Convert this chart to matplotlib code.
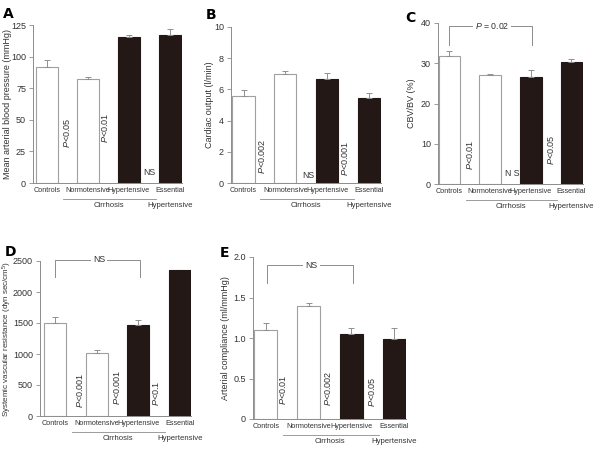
import matplotlib.pyplot as plt
from matplotlib.transforms import blended_transform_factory, offset_copy

plt.rcParams['font.family'] = ['Liberation Sans', 'DejaVu Sans']
plt.rcParams['mathtext.fontset'] = 'custom'
plt.rcParams['mathtext.rm'] = 'Liberation Sans'
plt.rcParams['mathtext.it'] = 'Liberation Sans:italic'

groups = ['Controls', 'Normotensive', 'Hypertensive', 'Essential']
filled = [False, False, True, True]

map_vals = [92, 82, 115.5, 117]
map_err = [5, 1.5, 1.5, 4.5]
co_vals = [5.6, 7.0, 6.65, 5.45]
co_err = [0.35, 0.15, 0.4, 0.3]
cbv_vals = [31.7, 27.0, 26.7, 30.2]
cbv_err = [1.3, 0.3, 1.5, 0.8]
svr_vals = [1500, 1010, 1475, 2350]
svr_err = [100, 50, 75, 0]
ac_vals = [1.10, 1.39, 1.05, 0.99]
ac_err = [0.09, 0.04, 0.07, 0.13]

W, H = 600, 470
TXT = '#333333'
GREY = '#8c8c8c'
DARK = '#231816'

fig = plt.figure(figsize=(6, 4.7), dpi=100)


def panel(left, spacing, xl, top, bottom, vals, errs, ymax, ystep, ylabel, letter,
          letter_xy, ylabel_x, pvals, bracket=None, ticklabels=None, ylsize=6.5):
    x0, x1 = xl
    width = (x1 - x0) * spacing
    ax = fig.add_axes([left / W, 1 - bottom / H, width / W, (bottom - top) / H])
    for i, (v, e) in enumerate(zip(vals, errs)):
        fc = DARK if filled[i] else 'white'
        ec = DARK if filled[i] else '#a0a0a0'
        ax.bar(i, v, width=0.53, color=fc, edgecolor=ec, linewidth=0.8, zorder=2)
        if e > 0:
            ax.errorbar(i, v, yerr=[[0], [e]], color='#909090', capsize=2,
                        elinewidth=0.7, capthick=0.7, zorder=3)
    ax.set_xlim(x0, x1)
    ax.set_ylim(0, ymax)
    ticks = [ystep * k for k in range(int(round(ymax / ystep)) + 1)]
    ax.set_yticks(ticks)
    if ticklabels:
        ax.set_yticklabels(ticklabels)
    ax.set_xticks(range(4))
    ax.set_xticklabels(groups)
    ax.tick_params(axis='x', length=0, pad=3, labelsize=5.2, colors=TXT)
    ax.tick_params(axis='y', length=3, width=0.6, color=GREY, labelsize=6.5,
                   labelcolor=TXT, pad=2)
    for s in ['top', 'right']:
        ax.spines[s].set_visible(False)
    for s in ['left', 'bottom']:
        ax.spines[s].set_color(GREY)
        ax.spines[s].set_linewidth(0.7)

    # second row of group labels and the Cirrhosis underline
    trans = blended_transform_factory(ax.transData, ax.transAxes)
    for xx, lab in [(1.5, 'Cirrhosis'), (3, 'Hypertensive')]:
        ax.annotate(lab, xy=(xx, 0), xycoords=trans, xytext=(0, -16),
                    textcoords='offset points', ha='center', va='center',
                    fontsize=5.6, color=TXT)
    tr2 = offset_copy(trans, fig=fig, x=0, y=-11.5, units='points')
    ax.plot([0.4, 2.65], [0, 0], transform=tr2, color=GREY, linewidth=0.6,
            clip_on=False)

    for (px, py, txt) in pvals:
        if txt.startswith('N'):
            ax.text(px, py, txt, ha='center', va='center', fontsize=6.3, color=TXT)
        else:
            ax.text(px, py, r'$P$' + txt, ha='center', va='center', rotation=90,
                    fontsize=6.5, color=TXT)
    if bracket is not None:
        bx0, bx1, by, bdrop, btxt, btx = bracket
        ax.plot([bx0, bx0, bx1, bx1], [bdrop, by, by, bdrop], color=GREY,
                linewidth=0.7, clip_on=False)
        ax.text(btx, by, btxt, ha='center', va='center', fontsize=6.3, color=TXT,
                bbox=dict(facecolor='white', edgecolor='none', pad=1.5))
    ax.set_ylabel(ylabel, fontsize=ylsize, color=TXT, va='center')
    ax.yaxis.set_label_coords((ylabel_x - left) / width, 0.5)
    fig.text(letter_xy[0] / W, 1 - letter_xy[1] / H, letter, fontsize=10,
             fontweight='bold', ha='left', va='center', color='black',
             family='DejaVu Sans')
    return ax


panel(33, 41, (-0.34, 3.3), 25, 183, map_vals, map_err, 125, 25,
      'Mean arterial blood pressure (mmHg)', 'A', (3, 14), 8,
      [(0.5, 40, '<0.05'), (1.42, 44, '<0.01'), (2.5, 8, 'NS')])

panel(231, 41.8, (-0.3, 3.28), 27, 183, co_vals, co_err, 10, 2,
      'Cardiac output (l/min)', 'B', (206, 15), 209,
      [(0.44, 1.73, '<0.002'), (1.54, 0.5, 'NS'), (2.43, 1.6, '<0.001')])

panel(438, 40.7, (-0.28, 3.28), 23, 184, cbv_vals, cbv_err, 40, 10,
      'CBV/BV (%)', 'C', (405, 18), 412,
      [(0.5, 7.2, '<0.01'), (1.54, 2.7, 'N S'), (2.49, 8.4, '<0.05')],
      bracket=(0, 2.03, 39.3, 34.5, r'$P$ = 0.02', 1.05))

panel(40, 41.5, (-0.37, 3.27), 261, 416, svr_vals, svr_err, 2500, 500,
      r'Systemic vascular resistance (dyn sec/cm$^5$)', 'D', (5, 252), 7,
      [(0.59, 420, '<0.001'), (1.48, 470, '<0.001'), (2.42, 370, '<0.1')],
      bracket=(0, 2.04, 2520, 2240, 'NS', 1.05), ylsize=5.8)

panel(253, 42.8, (-0.3, 3.27), 257, 419, ac_vals, ac_err, 2.0, 0.5,
      'Arterial compliance (ml/mmHg)', 'E', (220, 253), 226,
      [(0.4, 0.36, '<0.01'), (1.45, 0.38, '<0.002'), (2.48, 0.33, '<0.05')],
      bracket=(0.02, 2.03, 1.9, 1.68, 'NS', 1.07),
      ticklabels=['0', '0.5', '1.0', '1.5', '2.0'])

fig.savefig('out.png', dpi=100)
